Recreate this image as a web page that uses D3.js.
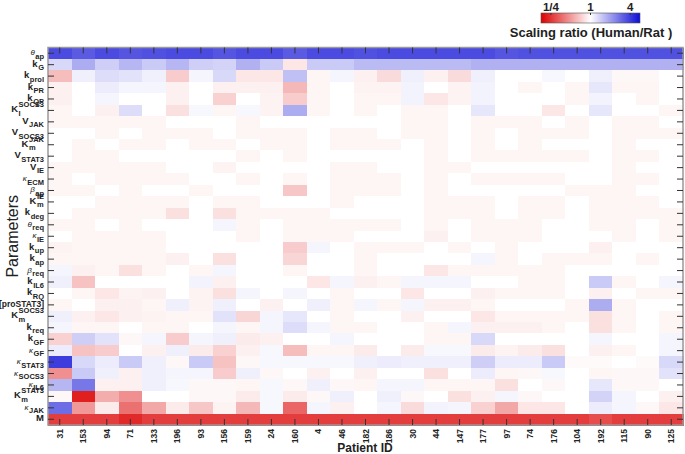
<!DOCTYPE html>
<html>
<head>
<meta charset="utf-8">
<script src="https://cdn.jsdelivr.net/npm/d3@7"></script>
<style>
  body { margin: 0; background: #fff; }
  text { font-family: "Liberation Sans", Arial, sans-serif; }
</style>
</head>
<body>
<div id="chart"></div>
<script>
// patient IDs (columns)
const patients = ["31","153","94","71","133","196","93","156","159","24","160","4","46","182","186","30","44","147","177","97","74","176","104","192","115","90","125"];

// parameter labels (rows): [main, sub, sup]
const paramLabels = [
  ["θ","ap",""], ["k","G",""], ["k","prol",""], ["k","PR",""], ["k","QP",""],
  ["K","I","SOCS3"], ["V","JAK",""], ["V","SOCS3",""], ["K","m","JAK"], ["V","STAT3",""],
  ["V","IE",""], ["κ","ECM",""], ["β","ap",""], ["K","m","IE"], ["k","deg",""],
  ["θ","req",""], ["κ","IE",""], ["k","up",""], ["k","ap",""], ["β","req",""],
  ["k","IL6",""], ["k","RQ",""], ["[proSTAT3]","",""], ["K","m","SOCS3"], ["k","req",""],
  ["k","GF",""], ["κ","GF",""], ["κ","STAT3",""], ["κ","SOCS3",""], ["κ","IL6",""],
  ["K","m","STAT3"], ["κ","JAK",""], ["M","",""]
];

// log2 of scaling ratio (Human/Rat), one row per parameter, one value per patient
const log2Ratio = [
  [1.85,1.7,1.85,1.75,1.8,1.85,1.85,1.75,1.85,1.85,1.7,1.85,1.85,1.8,1.85,1.85,1.85,1.85,1.85,1.75,1.8,1.8,1.8,1.8,1.8,1.8,1.8],
  [0.4,0.85,0.5,0.75,0.55,0.75,0.5,0.45,0.8,0.55,-0.25,0.55,0.55,0.7,0.7,0.7,0.7,0.7,0.8,0.8,0.8,0.8,0.8,0.8,0.8,0.8,0.8],
  [-0.65,0.15,0.35,0.3,0.15,-0.5,0.1,0.4,-0.25,-0.25,0.65,-0.1,0.1,-0.15,-0.35,0.15,-0.15,-0.35,0.15,0,0,0.08,0,0.15,-0.08,-0.08,0],
  [-0.15,0,0.2,0.1,0.1,-0.15,0,-0.15,-0.15,-0.15,-0.7,-0.1,0,-0.12,-0.12,0.12,0,-0.12,0.12,0,-0.1,0,-0.1,0.25,-0.1,-0.1,0],
  [-0.15,0,0.1,0,0,-0.15,0,-0.45,0,-0.12,-0.5,-0.1,0,-0.1,-0.1,0.12,-0.25,-0.12,0.12,0,0,0,-0.1,0.12,0,-0.1,0],
  [-0.1,0,-0.15,0.35,0,-0.3,0.08,-0.1,0.08,-0.12,0.85,-0.1,0,-0.1,0,-0.1,-0.1,0,0.25,0,0,-0.25,0,0.25,0,0,-0.1],
  [-0.1,-0.1,-0.1,-0.1,-0.1,0,0,0,-0.1,0,0,0,0,0,0,-0.1,-0.1,0,-0.1,-0.1,-0.1,0,-0.1,0,-0.1,-0.1,0],
  [0,0,-0.1,0,-0.1,-0.1,-0.1,0,-0.1,-0.1,-0.1,0,-0.1,-0.1,0,-0.1,-0.1,0,-0.1,0,-0.1,-0.1,-0.1,0,-0.1,-0.1,-0.1],
  [0,-0.1,0,-0.1,-0.1,0,-0.1,-0.1,0,-0.1,-0.1,0,-0.1,-0.1,-0.1,0,-0.1,0,-0.1,0,-0.1,0,0,0,-0.1,0,0],
  [0,-0.1,-0.1,0,0,0,0,0,-0.1,0,-0.1,0,0,0,0,0,-0.1,0,-0.1,-0.1,-0.1,-0.1,-0.1,0,-0.1,-0.1,0],
  [-0.1,-0.1,-0.1,-0.1,-0.1,0,0,-0.12,0,0,0,0,-0.1,-0.1,0,0,-0.1,-0.1,0,0,0,0,0,0,-0.1,0,0],
  [-0.1,0,-0.1,-0.1,-0.1,-0.1,0,0,-0.1,0,-0.1,0,-0.1,-0.1,-0.1,0,-0.1,0,-0.1,-0.1,-0.1,-0.1,0,0,-0.1,-0.1,0],
  [-0.1,-0.1,0,-0.1,0,0,-0.1,0,0,0,-0.55,0,-0.1,-0.1,-0.1,0,-0.1,0,0,0,0,0,-0.1,-0.1,-0.1,0,0],
  [0,0,-0.1,-0.1,-0.1,-0.1,0,-0.1,-0.1,0,0,0,-0.1,0,0,0,-0.1,-0.1,-0.1,0,-0.1,-0.1,0,-0.1,-0.1,-0.1,0],
  [0,-0.1,-0.1,-0.1,-0.1,-0.3,0,-0.3,-0.1,-0.1,-0.1,-0.1,0,0,0,0,-0.1,-0.1,-0.1,0,-0.1,-0.1,0,-0.1,-0.1,-0.1,-0.1],
  [-0.1,-0.1,0,-0.1,0,0,0,0.1,-0.1,0,-0.1,-0.1,-0.1,-0.1,-0.1,0,-0.1,0,-0.1,-0.1,-0.1,0,0,-0.1,-0.1,0,-0.1],
  [0,-0.1,-0.1,-0.1,-0.1,0,0,0,-0.1,0,-0.1,-0.1,-0.1,0,0,0,-0.15,0,-0.1,-0.1,-0.1,0,0,0,-0.1,0,-0.1],
  [-0.12,-0.1,-0.1,-0.1,-0.1,0,0,0,0,0,-0.5,0.1,0,-0.1,-0.1,-0.1,0,-0.1,0,-0.1,0,0,0,-0.15,0,0,0],
  [-0.1,-0.1,-0.1,-0.1,-0.1,-0.15,0,-0.3,0,0,-0.4,0,0,-0.1,0,0,0,0,0.1,-0.1,0,-0.1,-0.1,-0.1,0,-0.1,0],
  [0.1,-0.15,-0.1,-0.3,-0.1,0,-0.1,0.1,0,0,-0.1,0,0,-0.1,0,0,-0.25,-0.1,-0.1,-0.1,-0.1,-0.1,0,0,0,0,0],
  [0.15,-0.6,0,0,0,0,0.12,-0.15,0,0,0,-0.25,0.1,-0.15,-0.1,0.1,0.1,0.1,0,0,-0.1,-0.1,0,0.55,-0.1,0,0.1],
  [0,-0.1,-0.25,-0.12,-0.15,0,-0.12,-0.3,0.1,0,0.1,0,-0.1,0,0,-0.25,0,0,-0.15,-0.1,-0.1,-0.1,0,-0.15,0,-0.1,-0.1],
  [-0.1,0,-0.15,-0.15,-0.1,0.15,-0.12,0.15,0,-0.15,0,0.15,-0.1,0.1,-0.1,0.1,-0.15,-0.15,-0.1,0,0,0,-0.1,0.85,-0.1,0,0],
  [0.15,-0.15,-0.25,-0.15,-0.12,-0.1,-0.1,0.3,-0.4,0.1,0.25,0,-0.1,0,0,-0.15,0,0,-0.25,-0.1,-0.1,-0.1,-0.1,-0.3,-0.1,0,-0.1],
  [0.1,-0.1,-0.1,0,-0.1,-0.1,0,0.1,-0.1,0.1,0.35,0.1,-0.1,-0.1,0,0,-0.1,0.1,-0.15,-0.15,-0.15,-0.1,0,-0.3,-0.1,0,-0.1],
  [-0.45,0.5,0.3,-0.08,0.1,-0.5,0.1,0.15,-0.2,-0.15,0,0,0.1,0,0,0,-0.1,-0.1,0.4,0,0,0,0,0.1,0,0,0.1],
  [0.2,-0.6,-0.5,0,-0.15,0.15,-0.2,-0.45,-0.15,0.08,-0.65,-0.1,-0.1,-0.2,0,-0.2,0.08,0.08,-0.2,-0.12,-0.2,-0.3,0,-0.15,-0.1,0,0.1],
  [2.0,0.4,0.2,0.55,0.15,-0.08,0.55,-0.6,-0.08,0.08,0.08,0.08,0.08,0.15,0.2,0.15,0.15,0.15,0.5,0.2,0.2,0.55,-0.05,-0.05,0,-0.05,0.4],
  [-1.1,0.55,0.15,-0.15,0.15,0.1,0.1,-0.5,0.15,-0.08,0,-0.15,0,-0.15,0,0,-0.3,0,0.2,-0.1,-0.08,0.08,0,-0.1,-0.08,-0.08,0.3],
  [0.75,1.4,-0.15,-0.15,0.15,0.08,-0.08,-0.08,-0.1,0.08,-0.08,0.15,-0.08,-0.1,0.1,0.1,-0.1,-0.1,-0.1,-0.3,0,-0.08,0,0.25,-0.08,-0.08,0],
  [-0.08,-2.2,-0.8,-1.1,0,0,-0.08,-0.08,-0.2,0.08,-0.2,-0.08,0.15,0,0.15,-0.08,0,-0.3,-0.15,0.1,-0.08,0,0,0.45,0.1,0,-0.15],
  [1.5,-1.0,-0.2,-1.4,-0.85,-0.2,-0.55,-0.12,-0.7,0.08,-1.5,0.1,-0.15,0,0.1,-0.35,0.12,0.1,-0.45,-0.85,-0.25,-0.25,0,0.2,0.1,-0.08,-0.25],
  [-1.9,-1.9,-1.9,-2.1,-1.9,-1.9,-1.9,-1.9,-1.9,-1.9,-1.9,-1.9,-1.9,-1.9,-1.9,-1.9,-1.9,-1.9,-1.9,-1.9,-1.9,-1.9,-1.9,-1.75,-1.9,-1.9,-1.9]
];

// legend ticks (log2 values and labels)
const legendTicks = [-2, 0, 2];
const legendTickLabels = ["1/4", "1", "4"];

const width = 685;
const height = 454;
const margin = { top: 47.5, right: 2, bottom: 29, left: 48 };

const svg = d3.select("#chart")
  .append("svg")
  .attr("width", width)
  .attr("height", height);

const color = d3.scaleLinear()
  .domain([-2.5, 0, 2.5])
  .range(["#dc0000", "#ffffff", "#0c0cd6"])
  .clamp(true);

const x = d3.scaleBand()
  .domain(patients)
  .range([margin.left, width - margin.right]);

const y = d3.scaleBand()
  .domain(d3.range(paramLabels.length))
  .range([margin.top, height - margin.bottom]);

// cells
const cells = [];
log2Ratio.forEach((row, r) => row.forEach((v, c) => cells.push({ r, c, v })));

svg.append("g")
  .selectAll("rect")
  .data(cells)
  .enter()
  .append("rect")
  .attr("x", d => x(patients[d.c]))
  .attr("y", d => y(d.r))
  .attr("width", x.bandwidth() + 0.5)
  .attr("height", y.bandwidth() + 0.5)
  .attr("fill", d => color(d.v))
  .attr("shape-rendering", "crispEdges");

// frame
svg.append("rect")
  .attr("x", margin.left)
  .attr("y", margin.top)
  .attr("width", width - margin.left - margin.right)
  .attr("height", height - margin.top - margin.bottom)
  .attr("fill", "none")
  .attr("stroke", "#999")
  .attr("stroke-width", 1.5);

// inner ticks on all four sides
const tickLen = 6;
const ticks = svg.append("g").attr("stroke", "#333").attr("stroke-width", 1);
patients.forEach(p => {
  const cx = x(p) + x.bandwidth() / 2;
  ticks.append("line").attr("x1", cx).attr("x2", cx)
    .attr("y1", margin.top).attr("y2", margin.top + tickLen);
  ticks.append("line").attr("x1", cx).attr("x2", cx)
    .attr("y1", height - margin.bottom).attr("y2", height - margin.bottom - tickLen);
});
paramLabels.forEach((p, i) => {
  const cy = y(i) + y.bandwidth() / 2;
  ticks.append("line").attr("x1", margin.left).attr("x2", margin.left + tickLen)
    .attr("y1", cy).attr("y2", cy);
  ticks.append("line").attr("x1", width - margin.right).attr("x2", width - margin.right - tickLen)
    .attr("y1", cy).attr("y2", cy);
});

// patient labels
svg.append("g")
  .selectAll("text")
  .data(patients)
  .enter()
  .append("text")
  .attr("transform", d => `translate(${x(d) + x.bandwidth() / 2 + 3}, ${height - margin.bottom + 4}) rotate(-90)`)
  .attr("text-anchor", "end")
  .attr("font-size", 8.5)
  .attr("font-weight", "bold")
  .attr("fill", "#222")
  .text(d => d);

svg.append("text")
  .attr("x", 365)
  .attr("y", 452)
  .attr("text-anchor", "middle")
  .attr("font-size", 12)
  .attr("font-weight", "bold")
  .attr("fill", "#222")
  .text("Patient ID");

svg.append("text")
  .attr("transform", `translate(18, ${(margin.top + height - margin.bottom) / 2}) rotate(-90)`)
  .attr("text-anchor", "middle")
  .attr("font-size", 16)
  .attr("fill", "#222")
  .text("Parameters");

// parameter labels, with sub- and superscripts
const greek = new Set(["θ", "κ", "β"]);
paramLabels.forEach((p, i) => {
  const [main, sub, sup] = p;
  const cy = y(i) + y.bandwidth() / 2;
  const g = svg.append("g").attr("fill", "#222");
  const isGreek = greek.has(main);
  const m = g.append("text")
    .attr("x", 0).attr("y", 2)
    .attr("font-size", isGreek ? 8 : (main.length > 1 ? 8.5 : 9.5))
    .attr("font-weight", isGreek ? "normal" : "bold")
    .attr("font-style", isGreek ? "italic" : "normal")
    .text(main);
  const mw = m.node().getComputedTextLength();
  let extra = 0;
  if (sub) {
    const s = g.append("text")
      .attr("x", mw + 0.5).attr("y", 5.5)
      .attr("font-size", 7.5).attr("font-weight", "bold")
      .text(sub);
    extra = Math.max(extra, s.node().getComputedTextLength() + 0.5);
  }
  if (sup) {
    const s = g.append("text")
      .attr("x", mw + 0.5).attr("y", -3)
      .attr("font-size", 7.5).attr("font-weight", "bold")
      .text(sup);
    extra = Math.max(extra, s.node().getComputedTextLength() + 0.5);
  }
  g.attr("transform", `translate(${margin.left - 4 - mw - extra}, ${cy})`);
});

// legend
const legendX = d3.scaleLinear().domain([-2.5, 2.5]).range([541, 640]);
const defs = svg.append("defs");
const grad = defs.append("linearGradient").attr("id", "legend-grad");
d3.range(-2.5, 2.51, 0.25).forEach(v => {
  grad.append("stop")
    .attr("offset", `${((v + 2.5) / 5) * 100}%`)
    .attr("stop-color", color(v));
});
svg.append("rect")
  .attr("x", legendX(-2.5))
  .attr("y", 13)
  .attr("width", legendX(2.5) - legendX(-2.5))
  .attr("height", 10)
  .attr("fill", "url(#legend-grad)")
  .attr("stroke", "#555")
  .attr("stroke-width", 0.6);

legendTicks.forEach((t, i) => {
  svg.append("line")
    .attr("x1", legendX(t)).attr("x2", legendX(t))
    .attr("y1", 13).attr("y2", 15)
    .attr("stroke", "#333");
  svg.append("text")
    .attr("x", legendX(t))
    .attr("y", 11)
    .attr("text-anchor", "middle")
    .attr("font-size", 11.5)
    .attr("font-weight", "bold")
    .attr("fill", "#222")
    .text(legendTickLabels[i]);
});

svg.append("text")
  .attr("x", 591)
  .attr("y", 37)
  .attr("text-anchor", "middle")
  .attr("font-size", 13)
  .attr("font-weight", "bold")
  .attr("fill", "#222")
  .text("Scaling ratio (Human/Rat )");
</script>
</body>
</html>
